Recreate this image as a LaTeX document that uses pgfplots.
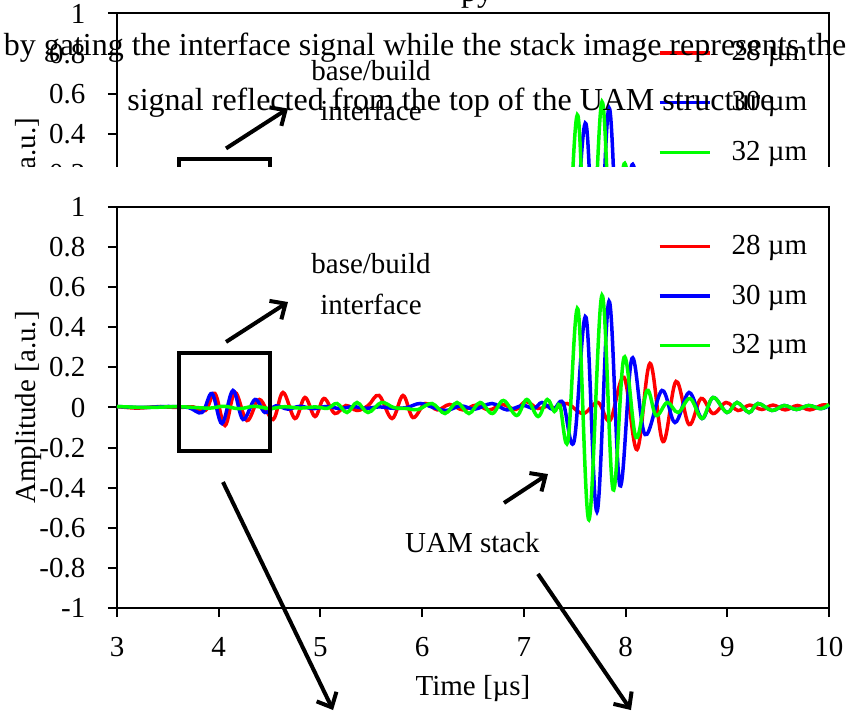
\documentclass[border=0pt]{standalone}
\usepackage{fontspec}
\setmainfont{Liberation Serif}
\usepackage{pgfplots}
\usepackage{pgfplotstable}
\pgfplotsset{compat=1.18}
\usetikzlibrary{arrows.meta}

\pgfplotstableread{
x y
3.00 0.005
3.20 -0.003
3.40 0.004
3.60 0.000
3.75 0.003
3.87 -0.015
3.963 0.07
4.062 -0.09
4.16 0.075
4.278 -0.065
4.40 0.04
4.534 -0.06
4.632 0.075
4.75 -0.055
4.848 0.05
4.947 -0.045
5.035 0.045
5.143 -0.03
5.25 0.01
5.36 -0.015
5.47 0.01
5.576 0.06
5.704 -0.055
5.812 0.06
5.91 -0.05
6.03 0.02
6.15 -0.012
6.27 0.015
6.40 -0.012
6.53 0.012
6.66 -0.012
6.79 0.015
6.92 -0.01
7.02 0.03
7.14 -0.005
7.25 0.01
7.31 -0.005
7.424 0.02
7.582 -0.03
7.729 0.025
7.847 -0.065
7.985 0.15
8.113 -0.21
8.24 0.22
8.368 -0.17
8.496 0.13
8.624 -0.085
8.742 0.045
8.86 -0.03
8.988 0.025
9.106 -0.015
9.22 0.012
9.34 -0.01
9.45 0.012
9.57 -0.012
9.69 0.01
9.81 -0.012
9.93 0.012
10.0 0.01
}\redtab

\pgfplotstableread{
x y
3.00 0.005
3.25 0.0
3.50 0.005
3.70 0.0
3.836 -0.025
3.934 0.07
4.032 -0.08
4.14 0.085
4.239 -0.06
4.357 0.04
4.455 -0.025
4.56 0.008
4.68 -0.008
4.80 0.006
4.93 -0.006
5.06 0.005
5.19 -0.005
5.32 0.004
5.45 -0.004
5.58 0.003
5.72 -0.004
5.85 0.0
5.98 0.02
6.11 0.0
6.24 -0.015
6.38 0.008
6.52 -0.008
6.687 0.02
6.834 -0.012
6.99 0.01
7.10 -0.005
7.179 0.025
7.287 -0.01
7.385 0.025
7.493 -0.17
7.611 0.45
7.719 -0.52
7.837 0.53
7.945 -0.39
8.063 0.245
8.191 -0.135
8.358 0.085
8.486 -0.075
8.624 0.075
8.752 -0.055
8.86 0.05
8.997 -0.025
9.096 0.025
9.214 -0.025
9.302 0.02
9.44 -0.015
9.56 0.01
9.68 -0.01
9.80 0.01
9.92 -0.006
10.0 0.01
}\bluetab

\pgfplotstableread{
x y
3.00 0.005
3.30 0.0
3.60 0.004
3.90 -0.003
4.05 0.006
4.20 -0.006
4.35 0.006
4.50 -0.005
4.65 0.004
4.80 -0.003
4.95 0.003
5.07 -0.004
5.163 0.02
5.261 -0.025
5.36 0.025
5.468 -0.025
5.60 0.025
5.72 0.0
5.84 -0.005
5.96 -0.01
6.097 0.02
6.225 -0.03
6.343 0.025
6.46 -0.03
6.57 0.025
6.69 -0.03
6.80 0.035
6.93 -0.04
7.03 0.04
7.14 -0.045
7.23 0.04
7.30 -0.02
7.355 0.01
7.434 -0.165
7.532 0.49
7.64 -0.56
7.768 0.56
7.877 -0.41
7.985 0.25
8.103 -0.15
8.211 0.085
8.30 -0.04
8.41 0.025
8.516 -0.025
8.634 0.045
8.752 -0.055
8.86 0.05
8.997 -0.025
9.096 0.025
9.214 -0.025
9.302 0.02
9.44 -0.015
9.56 0.01
9.68 -0.01
9.80 0.01
9.92 -0.006
10.0 0.015
}\greentab

\newcommand{\chfont}{\fontsize{14.5bp}{17bp}\selectfont}
\newcommand{\capfont}{\fontsize{16bp}{19bp}\selectfont}

\pgfplotsset{mychart/.style={
  anchor=south west, width=356bp, height=200.5bp, scale only axis,
  xmin=3, xmax=10, ymin=-1, ymax=1,
  xtick={3,4,5,6,7,8,9,10},
  xticklabels={3,4,5,6,7,8,9,10},
  ytick={-1,-0.8,-0.6,-0.4,-0.2,0,0.2,0.4,0.6,0.8,1},
  yticklabels={-1,-0.8,-0.6,-0.4,-0.2,0,0.2,0.4,0.6,0.8,1},
  tick pos=left, tick align=outside, major tick length=4.5bp,
  line width=1bp,
  every tick/.style={black, line width=1bp},
  clip=false,
  tick label style={font=\chfont},
  xticklabel style={anchor=base, yshift=-19.5bp},
  yticklabel style={xshift=-7.5bp},
  label style={font=\chfont},
  xlabel={Time [µs]}, ylabel={Amplitude [a.u.]},
  xlabel style={at={(axis description cs:0.5,-0.217)}, anchor=base},
  ylabel style={at={(axis description cs:-0.095,0.5)}, anchor=south},
  legend style={draw=none, fill=none, at={(axis cs:8.25,0.556)}, anchor=west,
    font=\chfont, row sep=9.75bp},
  legend cell align=left,
  legend image code/.code={\draw[##1, line width=1.7bp] (0bp,0bp) -- (25bp,0bp);
    \path[draw=none] (25bp,0bp) -- (34bp,0bp);},
}}

\newcommand{\chartbody}{%
  \addplot[red, line width=1.75bp, smooth, tension=0.6] table[x=x,y=y]{\redtab};
  \addlegendentry{28 µm}
  \addplot[blue, line width=1.75bp, smooth, tension=0.6] table[x=x,y=y]{\bluetab};
  \addlegendentry{30 µm}
  \addplot[green, line width=1.75bp, smooth, tension=0.6] table[x=x,y=y]{\greentab};
  \addlegendentry{32 µm}
  \draw[line width=2bp] (axis cs:3.61,0.272) rectangle (axis cs:4.504,-0.217);
  \draw[line width=2bp, -{Straight Barb[length=6bp,width=11bp]}] (axis cs:4.072,0.327) -- (axis cs:4.681,0.526);
  \node[font=\chfont, anchor=base] at (axis cs:5.497,0.666) {base/build};
  \node[font=\chfont, anchor=base] at (axis cs:5.497,0.466) {interface};
  \draw[line width=2bp, -{Straight Barb[length=6bp,width=11bp]}] (axis cs:6.805,-0.476) -- (axis cs:7.237,-0.332);
  \node[font=\chfont, anchor=base] at (axis cs:6.495,-0.721) {UAM stack};
  \draw[line width=2bp, -{Straight Barb[length=6bp,width=11bp]}] (axis cs:4.042,-0.372) -- (axis cs:5.124,-1.509);
  \draw[line width=2bp, -{Straight Barb[length=6bp,width=11bp]}] (axis cs:7.139,-0.830) -- (axis cs:8.053,-1.509);
}

\begin{document}
\begin{tikzpicture}
\begin{scope}
  \clip (0bp,272.5bp) rectangle (424bp,360bp);
  \begin{axis}[mychart, at={(58.5bp,148.75bp)}]
    \chartbody
  \end{axis}
\end{scope}
\begin{axis}[mychart, at={(58.5bp,52bp)}]
  \chartbody
\end{axis}
\node[font=\capfont, anchor=base, inner sep=0pt] at (238.5bp,355.3bp) {py};
\node[font=\capfont, anchor=base, inner sep=0pt] at (212.5bp,328.25bp) {by gating the interface signal while the stack image represents the};
\node[font=\capfont, anchor=base west, inner sep=0pt] at (63.5bp,300.5bp) {signal reflected from the top of the UAM structure};
\pgfresetboundingbox
\path[use as bounding box] (0bp,0bp) rectangle (424bp,356bp);
\end{tikzpicture}
\end{document}
